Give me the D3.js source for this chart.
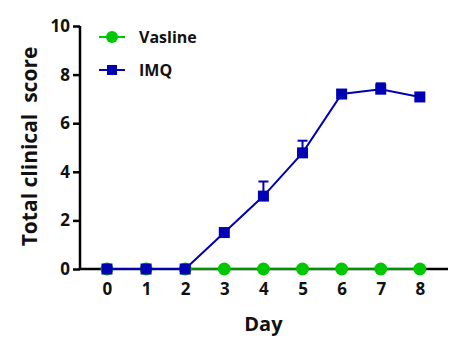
<!DOCTYPE html>
<html>
<head>
<meta charset="utf-8">
<script src="https://cdn.jsdelivr.net/npm/d3@7"></script>
<style>
  body { margin: 0; background: #fff; }
  text { font-family: "Open Sans", sans-serif; font-weight: 700; fill: #111; }
</style>
</head>
<body>
<script>
// Data
const days = [0, 1, 2, 3, 4, 5, 6, 7, 8];
const vasline = [0, 0, 0, 0, 0, 0, 0, 0, 0];
const imq = [0, 0, 0, 1.5, 3.0, 4.78, 7.2, 7.4, 7.08];
const imqErr = [0, 0, 0, 0, 0.6, 0.5, 0, 0.24, 0];
const yTicks = [0, 2, 4, 6, 8, 10];

const width = 468, height = 354;
const green = "#00c800", blue = "#0000b4";

const svg = d3.select("body").append("svg")
  .attr("width", width)
  .attr("height", height);

const x = d3.scaleLinear().domain([-0.69, 8.72]).range([80, 448]);
const y = d3.scaleLinear().domain([0, 10]).range([269, 26]);

// Y axis
const yAxis = svg.append("g")
  .attr("transform", "translate(80,0)")
  .call(d3.axisLeft(y).tickValues(yTicks).tickSize(7).tickPadding(3));
yAxis.select(".domain").attr("stroke", "#000").attr("stroke-width", 2.5)
  .attr("d", `M0,${y(10)}V${y(0)}`);
yAxis.selectAll(".tick line").attr("stroke", "#000").attr("stroke-width", 2.5);
yAxis.selectAll(".tick text").attr("font-size", 17).style("fill", "#111");

// X axis (no tick marks)
const xAxis = svg.append("g")
  .attr("transform", `translate(0,${y(0)})`)
  .call(d3.axisBottom(x).tickValues(days).tickSize(0).tickPadding(14));
xAxis.select(".domain").attr("stroke", "#000").attr("stroke-width", 2.5)
  .attr("d", `M80,0H448`);
xAxis.selectAll(".tick text").attr("font-size", 17).style("fill", "#111");

// Axis titles
svg.append("text")
  .attr("x", x(4)).attr("y", 331)
  .attr("text-anchor", "middle")
  .attr("font-size", 20)
  .text("Day");

svg.append("text")
  .attr("transform", `translate(37,${y(5) - 1}) rotate(-90)`)
  .attr("text-anchor", "middle")
  .attr("font-size", 21)
  .attr("xml:space", "preserve")
  .style("white-space", "pre")
  .text("Total clinical  score");

const line = d3.line().x((d, i) => x(days[i])).y(d => y(d));

// Vasline series
svg.append("path")
  .datum(vasline)
  .attr("fill", "none")
  .attr("stroke", green)
  .attr("stroke-width", 1.5)
  .attr("d", line);
svg.selectAll(".vas").data(vasline).enter().append("circle")
  .attr("class", "vas")
  .attr("cx", (d, i) => x(days[i]))
  .attr("cy", d => y(d))
  .attr("r", 6.5)
  .attr("fill", green);

// IMQ error bars (upper only)
const eb = svg.selectAll(".eb").data(imq.map((d, i) => ({ d, e: imqErr[i], day: days[i] })).filter(o => o.e > 0))
  .enter().append("g").attr("class", "eb");
eb.append("line")
  .attr("x1", o => x(o.day)).attr("x2", o => x(o.day))
  .attr("y1", o => y(o.d)).attr("y2", o => y(o.d + o.e))
  .attr("stroke", blue).attr("stroke-width", 2);
eb.append("line")
  .attr("x1", o => x(o.day) - 5).attr("x2", o => x(o.day) + 5)
  .attr("y1", o => y(o.d + o.e)).attr("y2", o => y(o.d + o.e))
  .attr("stroke", blue).attr("stroke-width", 2);

// IMQ series
svg.append("path")
  .datum(imq)
  .attr("fill", "none")
  .attr("stroke", blue)
  .attr("stroke-width", 2)
  .attr("d", line);
svg.selectAll(".imq").data(imq).enter().append("rect")
  .attr("class", "imq")
  .attr("x", (d, i) => x(days[i]) - 5.5)
  .attr("y", d => y(d) - 5.5)
  .attr("width", 11).attr("height", 11)
  .attr("fill", blue);

// Legend
const legend = [
  { name: "Vasline", color: green, shape: "circle", yy: 37 },
  { name: "IMQ", color: blue, shape: "square", yy: 70 }
];
const lg = svg.selectAll(".lg").data(legend).enter().append("g").attr("class", "lg");
lg.append("line")
  .attr("x1", 99).attr("x2", 125)
  .attr("y1", d => d.yy).attr("y2", d => d.yy)
  .attr("stroke", d => d.color).attr("stroke-width", 2);
lg.filter(d => d.shape === "circle").append("circle")
  .attr("cx", 112).attr("cy", d => d.yy).attr("r", 6).attr("fill", d => d.color);
lg.filter(d => d.shape === "square").append("rect")
  .attr("x", 107).attr("y", d => d.yy - 5).attr("width", 10).attr("height", 10)
  .attr("fill", d => d.color);
lg.append("text")
  .attr("x", 139).attr("y", d => d.yy)
  .attr("dy", "0.35em")
  .attr("font-size", 16)
  .text(d => d.name);
</script>
</body>
</html>
